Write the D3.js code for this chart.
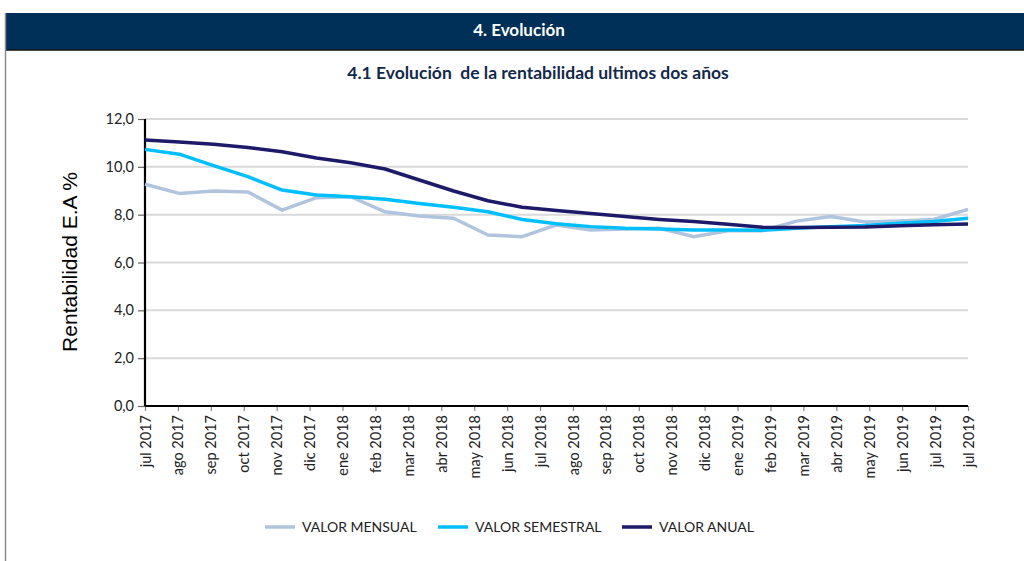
<!DOCTYPE html>
<html>
<head>
<meta charset="utf-8">
<script src="https://cdn.jsdelivr.net/npm/d3@7"></script>
<style>
  body { margin: 0; background: #fff; }
  svg { display: block; }
</style>
</head>
<body>
<div class="container"></div>
<script>
// months of the series (25 points) and the axis labels (26 labels, last one repeated as in the source)
const months = [
  "jul 2017", "ago 2017", "sep 2017", "oct 2017", "nov 2017", "dic 2017",
  "ene 2018", "feb 2018", "mar 2018", "abr 2018", "may 2018", "jun 2018",
  "jul 2018", "ago 2018", "sep 2018", "oct 2018", "nov 2018", "dic 2018",
  "ene 2019", "feb 2019", "mar 2019", "abr 2019", "may 2019", "jun 2019", "jul 2019"
];
const axisLabels = months.concat(["jul 2019"]);

const mensual = [9.27, 8.89, 8.99, 8.95, 8.19, 8.71, 8.75, 8.12, 7.94, 7.85, 7.15, 7.08,
  7.57, 7.36, 7.40, 7.43, 7.08, 7.33, 7.33, 7.73, 7.92, 7.69, 7.73, 7.80, 8.22];
const semestral = [10.73, 10.53, 10.05, 9.59, 9.03, 8.82, 8.75, 8.64, 8.47, 8.31, 8.12, 7.80,
  7.62, 7.50, 7.43, 7.40, 7.36, 7.36, 7.35, 7.43, 7.50, 7.55, 7.64, 7.71, 7.85];
const anual = [11.12, 11.04, 10.94, 10.81, 10.63, 10.37, 10.17, 9.91, 9.45, 8.99, 8.58, 8.31,
  8.17, 8.05, 7.92, 7.80, 7.71, 7.60, 7.47, 7.46, 7.47, 7.48, 7.54, 7.58, 7.61];

const yTicks = [0, 2, 4, 6, 8, 10, 12];

const series = [
  { name: "VALOR MENSUAL", values: mensual, color: "#b0c4de" },
  { name: "VALOR SEMESTRAL", values: semestral, color: "#00bfff" },
  { name: "VALOR ANUAL", values: anual, color: "#1c1a69" },
];

const W = 1024, H = 561;
const margin = { top: 119, left: 145 };
const width = 823;
const height = 287;

const svg = d3.select(".container")
  .append("svg")
  .attr("width", W)
  .attr("height", H)
  .style("font-family", "Lato, 'Open Sans', sans-serif");

// header bar + page frame
svg.append("rect")
  .attr("x", 5).attr("y", 13)
  .attr("width", W - 5).attr("height", 37)
  .attr("fill", "#003057");
svg.append("line")
  .attr("x1", 5).attr("x2", W).attr("y1", 50).attr("y2", 50)
  .attr("stroke", "#111").attr("stroke-width", 1.5);
svg.append("line")
  .attr("x1", 5.5).attr("x2", 5.5).attr("y1", 13).attr("y2", H)
  .attr("stroke", "#8a8a8a").attr("stroke-width", 1.5);

svg.append("text")
  .attr("x", 519).attr("y", 36)
  .attr("text-anchor", "middle")
  .attr("fill", "#fff")
  .style("font-size", "17px")
  .style("font-weight", "bold")
  .text("4. Evolución");

svg.append("text")
  .attr("x", 538).attr("y", 79)
  .attr("text-anchor", "middle")
  .attr("fill", "#13294b")
  .style("font-size", "17.5px")
  .style("font-weight", "bold")
  .attr("xml:space", "preserve")
  .text("4.1 Evolución  de la rentabilidad ultimos dos años");

const g = svg.append("g")
  .attr("transform", `translate(${margin.left}, ${margin.top})`);

const y = d3.scaleLinear().domain([0, 12]).range([height, 0]);
const xLabel = d3.scalePoint().domain(d3.range(axisLabels.length)).range([0, width]);
const xLine = d3.scalePoint().domain(months).range([0, width]);

const locale = d3.formatLocale({ decimal: ",", thousands: ".", grouping: [3], currency: ["", ""] });
const fmt = locale.format(".1f");

// gridlines
g.selectAll(".grid")
  .data(yTicks.slice(1))
  .enter()
  .append("line")
  .attr("x1", 0).attr("x2", width)
  .attr("y1", (d) => y(d)).attr("y2", (d) => y(d))
  .attr("stroke", "#d9d9d9")
  .attr("stroke-width", 2);

// y axis
const yAxis = g.append("g")
  .call(d3.axisLeft(y).tickValues(yTicks).tickFormat(fmt).tickSize(7).tickPadding(4));
yAxis.select(".domain").remove();
yAxis.selectAll(".tick line").attr("stroke", "#666").attr("stroke-width", 1.2);
yAxis.selectAll(".tick text")
  .attr("fill", "#222")
  .style("font-size", "14.5px")
  .style("font-family", "Lato, 'Open Sans', sans-serif");

// x axis
const xAxis = g.append("g")
  .attr("transform", `translate(0, ${height})`)
  .call(d3.axisBottom(xLabel).tickSize(5).tickFormat((i) => axisLabels[i]));
xAxis.select(".domain").remove();
xAxis.selectAll(".tick line").attr("stroke", "#888").attr("stroke-width", 1.2);
xAxis.selectAll(".tick text")
  .attr("transform", "rotate(-90)")
  .attr("text-anchor", "end")
  .attr("x", -9)
  .attr("y", 0)
  .attr("dy", "0.35em")
  .attr("fill", "#222")
  .style("font-size", "14.5px")
  .style("font-family", "Lato, 'Open Sans', sans-serif");

// axis lines
g.append("line")
  .attr("x1", 0).attr("x2", 0).attr("y1", 0).attr("y2", height)
  .attr("stroke", "#000").attr("stroke-width", 2.2);
g.append("line")
  .attr("x1", 0).attr("x2", width).attr("y1", height).attr("y2", height)
  .attr("stroke", "#000").attr("stroke-width", 2.2);

// lines
const line = d3.line()
  .x((d, i) => xLine(months[i]))
  .y((d) => y(d));

g.selectAll(".series")
  .data(series)
  .enter()
  .append("path")
  .attr("d", (d) => line(d.values))
  .attr("fill", "none")
  .attr("stroke", (d) => d.color)
  .attr("stroke-width", 3.5)
  .attr("stroke-linejoin", "round");

// y axis title
svg.append("text")
  .attr("transform", "translate(77, 262) rotate(-90)")
  .attr("text-anchor", "middle")
  .attr("fill", "#000")
  .style("font-family", "'Liberation Sans', Arial, sans-serif")
  .style("font-size", "21px")
  .text("Rentabilidad E.A %");

// legend
const legendX = [265, 438, 622];
const legend = svg.selectAll(".legend")
  .data(series)
  .enter()
  .append("g")
  .attr("transform", (d, i) => `translate(${legendX[i]}, 527)`);
legend.append("line")
  .attr("x1", 0).attr("x2", 30)
  .attr("stroke", (d) => d.color)
  .attr("stroke-width", 3.5);
legend.append("text")
  .attr("x", 37).attr("dy", "0.35em")
  .attr("fill", "#222")
  .style("font-size", "14px")
  .text((d) => d.name);
</script>
</body>
</html>
